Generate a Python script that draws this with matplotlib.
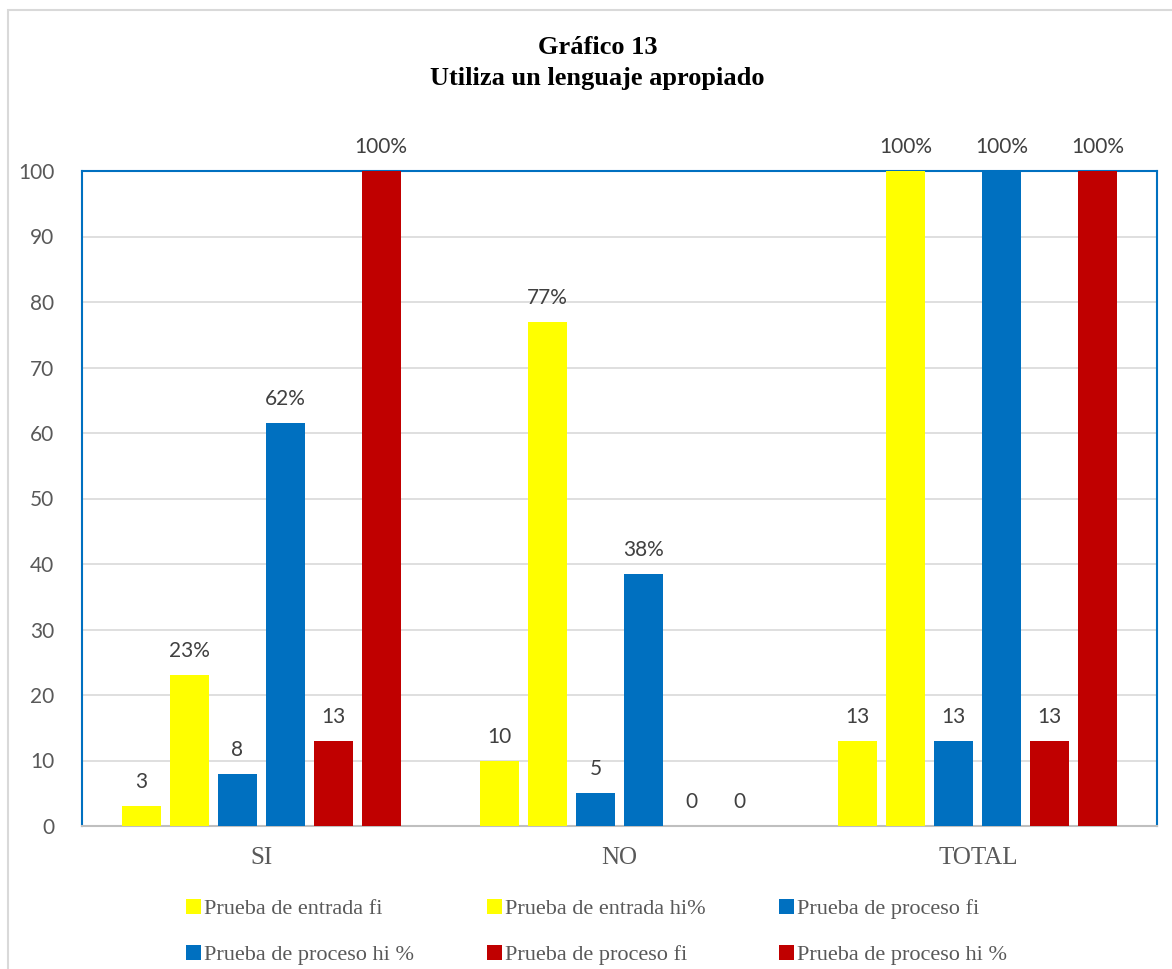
import matplotlib.pyplot as plt
from matplotlib.patches import Rectangle
import numpy as np

# data
categories = ['SI', 'NO', 'TOTAL']
series_names = ['Prueba de entrada fi', 'Prueba de entrada hi%', 'Prueba de proceso fi',
                'Prueba de proceso hi %', 'Prueba de proceso fi', 'Prueba de proceso hi %']
entrada_fi = [3, 10, 13]
entrada_hi = [23.1, 76.9, 100]
proceso_fi = [8, 5, 13]
proceso_hi = [61.5, 38.5, 100]
salida_fi = [13, 0, 13]
salida_hi = [100, 0, 100]
entrada_fi_lbl = ['3', '10', '13']
entrada_hi_lbl = ['23%', '77%', '100%']
proceso_fi_lbl = ['8', '5', '13']
proceso_hi_lbl = ['62%', '38%', '100%']
salida_fi_lbl = ['13', '0', '13']
salida_hi_lbl = ['100%', '0', '100%']

series = [entrada_fi, entrada_hi, proceso_fi, proceso_hi, salida_fi, salida_hi]
labels = [entrada_fi_lbl, entrada_hi_lbl, proceso_fi_lbl, proceso_hi_lbl, salida_fi_lbl, salida_hi_lbl]
colors = ['#FFFF00', '#FFFF00', '#0070C0', '#0070C0', '#C00000', '#C00000']

fig = plt.figure(figsize=(11.72, 9.69), dpi=100)
ax = fig.add_axes([82/1172, 143/969, 1075/1172, 655/969])

# light border around the chart
fig.patches.append(Rectangle((8/1172, -0.1), 1.2, 0.1 + 959/969, transform=fig.transFigure,
                             fill=False, edgecolor='#D9D9D9', linewidth=1.5))

x = np.arange(len(categories))
step = 0.134
width = 0.109
for i, (vals, lbls, c) in enumerate(zip(series, labels, colors)):
    pos = x + (i - 2.5) * step
    ax.bar(pos, vals, width, color=c, label=series_names[i], zorder=3)
    for p, v, t in zip(pos, vals, lbls):
        ax.annotate(t, (p, v), xytext=(0, 10), textcoords='offset points', ha='center',
                    va='bottom', fontsize=15, color='#404040', family='Lato')

ax.set_xlim(-0.5, 2.5)
ax.set_ylim(0, 100)
ax.set_yticks(range(0, 101, 10))
ax.grid(axis='y', color='#D9D9D9', linewidth=1.2, zorder=0)
ax.set_xticks(x)
ax.set_xticklabels(categories, family='Liberation Serif', fontsize=18, color='#595959')
for t in ax.get_yticklabels():
    t.set_family('Lato')
    t.set_fontsize(15)
    t.set_color('#595959')
ax.tick_params(length=0)
ax.tick_params(axis='y', pad=20)
ax.tick_params(axis='x', pad=15)
for s in ['left', 'top', 'right']:
    ax.spines[s].set_color('#0070C0')
    ax.spines[s].set_linewidth(1.5)
ax.spines['bottom'].set_color('#BFBFBF')
ax.spines['bottom'].set_linewidth(1.5)

fig.text(0.51, 1 - 47/969, 'Gráfico 13', ha='center', va='center', family='Liberation Serif',
         fontweight='bold', fontsize=19)
fig.text(0.51, 1 - 78/969, 'Utiliza un lenguaje apropiado', ha='center', va='center',
         family='Liberation Serif', fontweight='bold', fontsize=19)

h, l = ax.get_legend_handles_labels()
order = [0, 3, 1, 4, 2, 5]
leg = fig.legend([h[k] for k in order], [l[k] for k in order], ncol=3, loc='center',
                 bbox_to_anchor=(0.509, 1 - 932/969), frameon=False,
                 prop={'family': 'Liberation Serif', 'size': 16},
                 handlelength=0.65, handleheight=0.65, handletextpad=0.15,
                 columnspacing=3.3, labelspacing=1.15)
for t in leg.get_texts():
    t.set_color('#595959')

fig.savefig('out.png', dpi=100)
